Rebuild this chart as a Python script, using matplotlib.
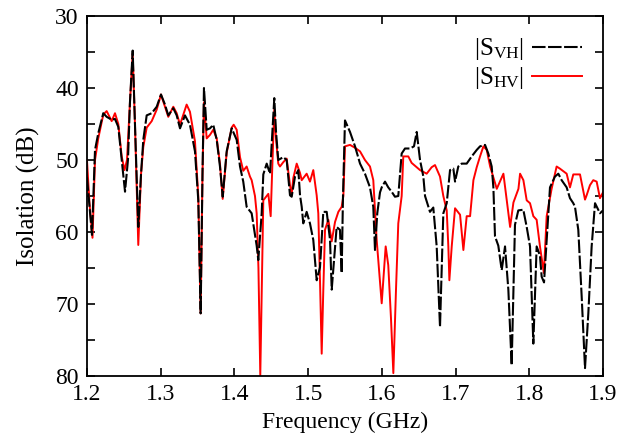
import matplotlib
matplotlib.use('Agg')
import matplotlib.pyplot as plt
from matplotlib.ticker import MultipleLocator

plt.rcParams['font.family'] = ['Liberation Serif', 'DejaVu Serif']
plt.rcParams['mathtext.fontset'] = 'custom'
plt.rcParams['mathtext.rm'] = 'Liberation Serif'
plt.rcParams['mathtext.it'] = 'Liberation Serif:italic'

# |S_VH| (black dashed), frequency in GHz, isolation in dB
f_vh = [1.200, 1.2068, 1.2109, 1.2153, 1.2221, 1.2267, 1.2335, 1.2380, 1.2425, 1.2471,
        1.2516, 1.2556, 1.2583, 1.2620, 1.2651, 1.2696, 1.2733, 1.2764, 1.2810, 1.2878,
        1.2946, 1.3004, 1.3058, 1.3103, 1.3171, 1.3217, 1.3262, 1.3329, 1.3397, 1.3465,
        1.3510, 1.3542, 1.3567, 1.3587, 1.3624, 1.3669, 1.3713, 1.3760, 1.3804, 1.3841,
        1.3895, 1.3963, 1.4031, 1.4076, 1.4120, 1.4166, 1.4234, 1.4302, 1.4324, 1.4370,
        1.4392, 1.4438, 1.4483, 1.4510, 1.4541, 1.4564, 1.4595, 1.4663, 1.4709, 1.4754,
        1.4777, 1.4822, 1.4867, 1.4890, 1.4913, 1.4934, 1.4980, 1.5025, 1.5070, 1.5116,
        1.5161, 1.5206, 1.5252, 1.5297, 1.5320, 1.5387, 1.5432, 1.5455, 1.5473, 1.5500,
        1.5568, 1.5636, 1.5704, 1.5771, 1.5839, 1.5884, 1.5907, 1.5938, 1.5975, 1.5998,
        1.6043, 1.6087, 1.6133, 1.6178, 1.6223, 1.6246, 1.6269, 1.6314, 1.6382, 1.6436,
        1.6473, 1.6518, 1.6563, 1.6586, 1.6653, 1.6698, 1.6744, 1.6789, 1.6834, 1.6880,
        1.6925, 1.6970, 1.6993, 1.7037, 1.7083, 1.7151, 1.7219, 1.7287, 1.7332, 1.7400,
        1.7444, 1.7490, 1.7513, 1.7535, 1.7580, 1.7626, 1.7671, 1.7716, 1.7761, 1.7806,
        1.7851, 1.7919, 1.7965, 1.8010, 1.8055, 1.8100, 1.8145, 1.8168, 1.8200, 1.8258,
        1.8281, 1.8348, 1.8394, 1.8439, 1.8507, 1.8552, 1.8597, 1.8620, 1.8665, 1.8711,
        1.8756, 1.8801, 1.8846, 1.8892, 1.8959, 1.9000]
s_vh = [52.4, 60.4, 48.6, 46.3, 43.5, 44.0, 44.4, 44.3, 45.4, 50.0,
        54.4, 50.0, 42.0, 34.8, 45.0, 59.3, 52.0, 47.2, 43.8, 43.5,
        42.6, 40.9, 42.3, 43.8, 42.8, 43.8, 45.6, 43.8, 45.1, 48.8,
        55.6, 71.3, 52.0, 40.0, 45.8, 45.6, 45.1, 47.2, 50.9, 55.1,
        48.8, 45.6, 47.2, 50.9, 53.0, 56.5, 57.4, 61.9, 63.9, 57.4,
        52.0, 50.5, 51.9, 47.0, 41.4, 46.0, 50.0, 49.6, 50.0, 54.9,
        55.1, 52.3, 51.4, 54.9, 56.5, 58.8, 57.2, 58.8, 61.1, 66.7,
        64.9, 57.2, 57.2, 61.1, 68.0, 59.3, 59.7, 65.7, 55.0, 44.5,
        46.1, 48.1, 50.5, 51.9, 53.8, 56.5, 62.5, 57.4, 54.5, 53.8,
        53.0, 53.8, 54.4, 55.1, 55.0, 52.0, 49.1, 48.4, 48.4, 48.1,
        46.1, 50.0, 52.3, 55.0, 57.2, 56.6, 62.0, 73.2, 57.4, 56.0,
        51.4, 51.2, 53.0, 50.9, 50.5, 50.5, 49.5, 48.6, 48.1, 47.9,
        49.1, 50.9, 53.8, 60.6, 61.9, 65.3, 62.0, 68.0, 78.5, 59.0,
        57.0, 56.9, 59.3, 62.0, 75.5, 62.0, 63.3, 66.2, 67.0, 57.4,
        53.8, 52.3, 51.9, 52.8, 53.8, 55.3, 56.0, 56.5, 59.7, 69.0,
        78.9, 71.3, 62.0, 56.0, 57.4, 57.0]

# |S_HV| (red solid)
f_hv = [1.200, 1.2034, 1.2075, 1.2109, 1.2153, 1.2221, 1.2267, 1.2335, 1.2380, 1.2425,
        1.2471, 1.2509, 1.2543, 1.2583, 1.2620, 1.2651, 1.2696, 1.2733, 1.2764, 1.2810,
        1.2878, 1.2946, 1.3004, 1.3058, 1.3103, 1.3171, 1.3217, 1.3262, 1.3352, 1.3397,
        1.3465, 1.3510, 1.3542, 1.3567, 1.3587, 1.3624, 1.3669, 1.3713, 1.3760, 1.3804,
        1.3841, 1.3895, 1.3963, 1.3990, 1.4031, 1.4076, 1.4120, 1.4166, 1.4211, 1.4234,
        1.4279, 1.4302, 1.4326, 1.4351, 1.4374, 1.4392, 1.4460, 1.4492, 1.4517, 1.4541,
        1.4564, 1.4595, 1.4618, 1.4663, 1.4709, 1.4754, 1.4777, 1.4799, 1.4845, 1.4890,
        1.4913, 1.4980, 1.5025, 1.5070, 1.5116, 1.5138, 1.5161, 1.5184, 1.5206, 1.5229,
        1.5274, 1.5320, 1.5365, 1.5410, 1.5455, 1.5478, 1.5500, 1.5568, 1.5636, 1.5704,
        1.5771, 1.5839, 1.5884, 1.5930, 1.5998, 1.6052, 1.6087, 1.6124, 1.6156, 1.6192,
        1.6223, 1.6269, 1.6291, 1.6359, 1.6404, 1.6473, 1.6518, 1.6608, 1.6676, 1.6721,
        1.6789, 1.6834, 1.6880, 1.6902, 1.6916, 1.6948, 1.6993, 1.7061, 1.7106, 1.7151,
        1.7197, 1.7242, 1.7287, 1.7332, 1.7378, 1.7423, 1.7469, 1.7559, 1.7649, 1.7695,
        1.7740, 1.7785, 1.7853, 1.7875, 1.7920, 1.7965, 1.8010, 1.8055, 1.8100, 1.8145,
        1.8198, 1.8236, 1.8303, 1.8371, 1.8416, 1.8507, 1.8552, 1.8597, 1.8688, 1.8756,
        1.8778, 1.8823, 1.8868, 1.8914, 1.8959, 1.9000]
s_hv = [50.0, 56.0, 60.8, 50.0, 47.0, 43.7, 43.2, 44.6, 43.5, 45.0,
        49.5, 51.4, 50.0, 42.0, 35.2, 45.0, 61.8, 52.0, 48.2, 45.5,
        44.6, 43.0, 40.9, 42.6, 44.0, 42.6, 43.5, 45.1, 42.3, 43.3,
        47.4, 55.0, 71.3, 52.0, 42.0, 47.0, 46.5, 45.8, 47.0, 50.5,
        55.4, 49.0, 45.5, 45.1, 45.8, 49.6, 51.5, 50.9, 52.3, 52.8,
        55.0, 57.4, 65.0, 79.9, 66.0, 55.6, 54.7, 57.8, 50.0, 43.0,
        47.0, 50.5, 50.9, 50.3, 49.8, 53.5, 54.8, 52.5, 50.5, 51.8,
        52.8, 51.9, 53.0, 51.4, 54.9, 57.4, 66.7, 76.9, 68.0, 59.7,
        58.3, 61.3, 58.6, 57.2, 56.5, 55.0, 48.1, 47.9, 48.3, 48.8,
        50.0, 50.9, 52.8, 61.1, 69.9, 62.0, 64.6, 72.0, 79.6, 68.0,
        58.8, 55.0, 49.5, 49.5, 50.4, 51.0, 51.4, 51.9, 51.0, 50.7,
        52.3, 55.0, 57.0, 62.0, 66.7, 62.0, 56.7, 57.6, 62.5, 57.8,
        57.8, 52.8, 51.0, 49.5, 48.1, 48.6, 50.9, 54.0, 51.9, 55.6,
        59.3, 55.9, 54.0, 51.9, 52.8, 55.6, 56.0, 57.8, 58.3, 62.0,
        65.7, 57.8, 54.0, 50.9, 51.2, 51.9, 53.8, 52.0, 52.0, 55.5,
        54.9, 53.5, 52.8, 53.0, 55.3, 54.5]

fig = plt.figure(figsize=(6.33, 4.34), dpi=100)
ax = fig.add_axes([0.1374, 0.1336, 0.8152, 0.8295])

ax.plot(f_hv, s_hv, color='#ff0000', lw=1.4, label=r'$|\mathrm{S}_{\mathrm{HV}}|$', zorder=2)
ax.plot(f_vh, s_vh, color='black', lw=1.5, dashes=(6.5, 1.2),
        label=r'$|\mathrm{S}_{\mathrm{VH}}|$', zorder=3)

ax.set_xlim(1.2, 1.9)
ax.set_ylim(80, 30)
ax.xaxis.set_major_locator(MultipleLocator(0.1))
ax.yaxis.set_major_locator(MultipleLocator(10))
ax.yaxis.set_minor_locator(MultipleLocator(5))
ax.tick_params(which='both', direction='in', length=6, width=1.2,
               top=True, right=True, labelsize=17, pad=6)
for s in ax.spines.values():
    s.set_linewidth(1.3)

ax.set_xlabel('Frequency (GHz)', fontsize=17, labelpad=5)
ax.set_ylabel('Isolation (dB)', fontsize=18, labelpad=11)

h, l = ax.get_legend_handles_labels()
ax.legend(h[::-1], l[::-1], loc='upper right', bbox_to_anchor=(0.988, 0.985),
          frameon=False, markerfirst=False, fontsize=18, handlelength=2.0,
          handletextpad=0.3, labelspacing=0.12, borderaxespad=0.2)

fig.savefig('out.png', dpi=100)
